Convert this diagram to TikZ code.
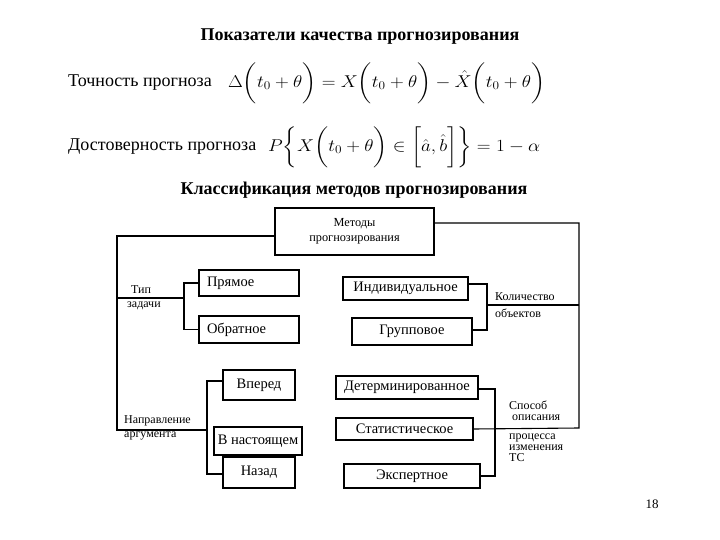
\documentclass[tikz,border=0pt]{standalone}
\usepackage{amsmath}
\usepackage{graphicx}
\usepackage{fontspec}
\setmainfont{Liberation Serif}

\begin{document}
\begin{tikzpicture}[x=1pt,y=-1pt,
box/.style={draw,line width=1.1pt,inner sep=1pt,font=\fontsize{14.5}{14.5}\selectfont},
lbl/.style={inner sep=0pt,anchor=west,font=\fontsize{12}{11}\selectfont},
link/.style={line width=1.1pt}]

\useasboundingbox (0,0) rectangle (720,540);

%%%%%%%%%%%%%%%%%%%%%%%%%%%%%%%%%%%%%%%%%%%%%%%%%%%%%%%%%%
% QUALITY INDICATORS
%%%%%%%%%%%%%%%%%%%%%%%%%%%%%%%%%%%%%%%%%%%%%%%%%%%%%%%%%%

\node[font=\bfseries\fontsize{18}{18}\selectfont](title) at (360,37)
{Показатели качества прогнозирования};

\node[anchor=west,inner sep=0pt,font=\fontsize{18}{18}\selectfont](accuracy) at (68,83)
{Точность прогноза};

\node[anchor=west,inner sep=0pt,font=\fontsize{18.5}{18.5}\selectfont](accformula) at (228,83)
{\resizebox*{317pt}{41pt}{$\Delta\bigg(t_0+\theta\bigg)=X\bigg(t_0+\theta\bigg)-\hat{X}\bigg(t_0+\theta\bigg)$}};

\node[anchor=west,inner sep=0pt,font=\fontsize{18}{18}\selectfont](reliability) at (68,147)
{Достоверность прогноза};

\node[anchor=west,inner sep=0pt,font=\fontsize{18.5}{18.5}\selectfont](relformula) at (268,147)
{\resizebox*{272pt}{41pt}{$P\bigg\{X\bigg(t_0+\theta\bigg)\in\bigg[\hat{a},\hat{b}\bigg]\bigg\}=1-\alpha$}};

\node[font=\bfseries\fontsize{18}{18}\selectfont](classtitle) at (354,190)
{Классификация методов прогнозирования};

%%%%%%%%%%%%%%%%%%%%%%%%%%%%%%%%%%%%%%%%%%%%%%%%%%%%%%%%%%
% ROOT
%%%%%%%%%%%%%%%%%%%%%%%%%%%%%%%%%%%%%%%%%%%%%%%%%%%%%%%%%%

\node[
box,
minimum width=159pt,
minimum height=47pt,
align=center,
font=\fontsize{12.3}{15}\selectfont
](methods) at (354.5,231.5)
{Методы\\прогнозирования};

%%%%%%%%%%%%%%%%%%%%%%%%%%%%%%%%%%%%%%%%%%%%%%%%%%%%%%%%%%
% LEFT BRANCHES
%%%%%%%%%%%%%%%%%%%%%%%%%%%%%%%%%%%%%%%%%%%%%%%%%%%%%%%%%%

\node[box,minimum width=100pt,minimum height=26pt,text width=84pt,align=left](direct) at (249,283) {Прямое};
\node[box,minimum width=100pt,minimum height=27pt,text width=84pt,align=left](inverse) at (249,329.5) {Обратное};

\node[box,minimum width=72pt,minimum height=30pt](forward) at (259,385) {Вперед};
\node[box,minimum width=88pt,minimum height=28pt](present) at (258,441) {В настоящем};
\node[box,minimum width=72pt,minimum height=31pt](backward) at (259,472.5) {Назад};

%%%%%%%%%%%%%%%%%%%%%%%%%%%%%%%%%%%%%%%%%%%%%%%%%%%%%%%%%%
% RIGHT BRANCHES
%%%%%%%%%%%%%%%%%%%%%%%%%%%%%%%%%%%%%%%%%%%%%%%%%%%%%%%%%%

\node[box,minimum width=125pt,minimum height=23pt](individual) at (405.5,288.5) {Индивидуальное};
\node[box,minimum width=120pt,minimum height=27pt](group) at (412,331.5) {Групповое};

\node[box,minimum width=142pt,minimum height=23pt](determ) at (407,387.5) {Детерминированное};
\node[box,minimum width=137pt,minimum height=22pt](statist) at (404.5,429) {Статистическое};
\node[box,minimum width=136pt,minimum height=24pt](expert) at (412,476) {Экспертное};

%%%%%%%%%%%%%%%%%%%%%%%%%%%%%%%%%%%%%%%%%%%%%%%%%%%%%%%%%%
% LABELS
%%%%%%%%%%%%%%%%%%%%%%%%%%%%%%%%%%%%%%%%%%%%%%%%%%%%%%%%%%

\node[lbl](tasktype) at (131,290) {Тип};
\node[lbl](tasktype2) at (127,306) {задачи};
\node[lbl](argdir) at (124,421) {Направление};
\node[lbl](argdir2) at (124,436) {аргумента};
\node[lbl](objcount) at (495,297) {Количество};
\node[lbl](objcount2) at (495,313) {объектов};
\node[lbl,align=left,anchor=north west](descr) at (509,400.5)
{Способ\\\hspace*{3pt}описания\\[8pt]процесса\\изменения\\ТС};

\node[font=\fontsize{13}{13}\selectfont](pagenum) at (652,504) {18};

%%%%%%%%%%%%%%%%%%%%%%%%%%%%%%%%%%%%%%%%%%%%%%%%%%%%%%%%%%
% CONNECTIONS
%%%%%%%%%%%%%%%%%%%%%%%%%%%%%%%%%%%%%%%%%%%%%%%%%%%%%%%%%%

\coordinate (trunkL) at (117,430);
\coordinate (taskL) at (117,298);
\coordinate (taskjoin) at (184,298);
\coordinate (argjoin) at (207,430);

\coordinate (trunkR) at (579,428);
\coordinate (countR) at (579,305);
\coordinate (countjoin) at (487,305);
\coordinate (descrjoin) at (495,430);

\draw[link]([yshift=-4.5pt]methods.west) -| (trunkL) -- (argjoin);
\draw[link](taskL) -- (taskjoin);
\draw[link](direct.west) -| (taskjoin) |- (inverse.west);
\draw[link]([yshift=4pt]forward.west) -| (argjoin) |- ([yshift=-1.5pt]backward.west);

\draw[link]([yshift=8.5pt]methods.east) -| (trunkR) -- (statist.east);
\draw[link](countR) -- (countjoin);
\draw[link]([yshift=4.5pt]individual.east) -| (countjoin) |- ([yshift=1.5pt]group.east);
\draw[link]([yshift=-1.5pt]determ.east) -| (descrjoin) |- (expert.east);

\end{tikzpicture}
\end{document}
